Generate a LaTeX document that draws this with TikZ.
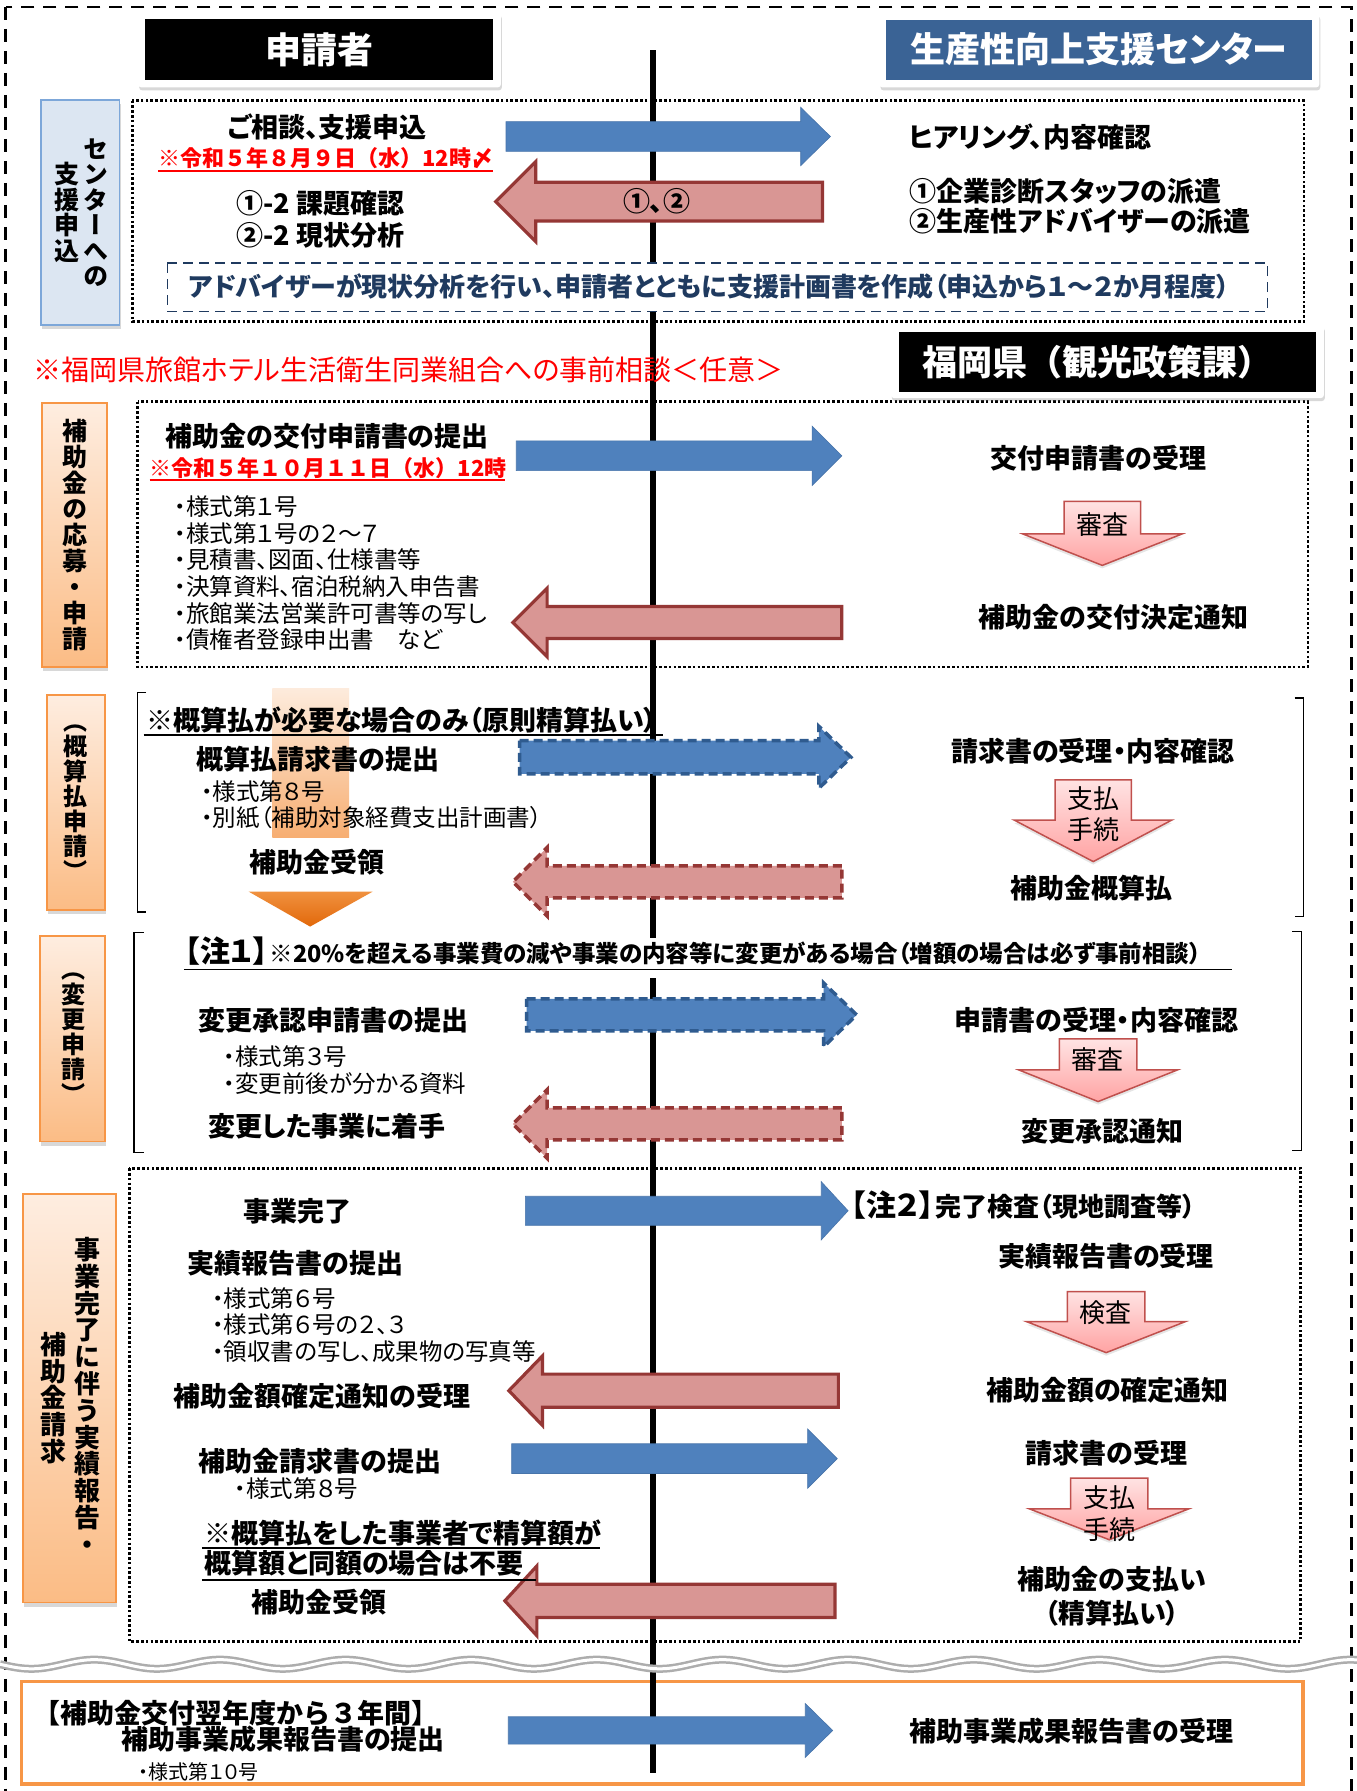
\documentclass[tikz,border=0pt]{standalone}
\usepackage{fontspec}
\setmainfont{Noto Sans CJK JP}[RawFeature=+palt]
\newfontfamily\nfont{Noto Sans CJK JP}
\newfontfamily\vfont{Noto Sans CJK JP}[RawFeature=+vert]
\usetikzlibrary{shadows}
\definecolor{abl}{HTML}{4F81BD}
\definecolor{ablD}{HTML}{2F5B8F}
\definecolor{ard}{HTML}{D99694}
\definecolor{ardD}{HTML}{953735}
\definecolor{hblue}{HTML}{3A6395}
\definecolor{lbf}{HTML}{DCE6F2}
\definecolor{lbd}{HTML}{7DA7D9}
\definecolor{org}{HTML}{F79646}
\definecolor{orgT}{HTML}{FEEDE0}
\definecolor{orgB}{HTML}{FBBC85}
\definecolor{dnD}{HTML}{C0504D}
\definecolor{dnT}{HTML}{FFE3E3}
\definecolor{dnB}{HTML}{FFA3A3}
\definecolor{navy}{HTML}{1F3A5F}
\definecolor{hlT}{HTML}{FDEBDC}
\definecolor{hlB}{HTML}{F7AE72}
\definecolor{triT}{HTML}{F0913F}
\definecolor{triB}{HTML}{E2680A}
\newcommand\hArrow[7]{\path[#1] (#2,{#5-#6}) -- (#3,{#5-#6}) -- (#3,{#5-#7}) -- (#4,#5) -- (#3,{#5+#7}) -- (#3,{#5+#6}) -- (#2,{#5+#6}) -- cycle;}
\newcommand\dArrow[7]{\path[dnarr] (#1,#3) -- (#2,#3) -- (#2,#4) -- (#6,#4) -- ({(#1+#2)/2},#7) -- (#5,#4) -- (#1,#4) -- cycle;}
\tikzset{
  bt/.style={font=\bfseries\fontsize{27}{30}\selectfont, inner sep=0pt},
  rt/.style={font=\fontsize{23.5}{26}\selectfont, inner sep=0pt},
  dt/.style={font=\nfont\bfseries\fontsize{22}{24}\selectfont, text=red, inner sep=0pt},
  vt/.style={font=\vfont\bfseries\fontsize{24}{25.3}\selectfont, align=center, inner sep=0pt},
  dnt/.style={font=\fontsize{26}{27}\selectfont, inner sep=0pt},
  hdt/.style={font=\bfseries\fontsize{36}{36}\selectfont, text=white, inner sep=0pt},
  halo/.style={fill=white, rounded corners=3pt, drop shadow={shadow xshift=1pt, shadow yshift=-3pt, opacity=0.3}},
  dotbox/.style={draw=black, line width=2.6pt, dash pattern=on 2.6pt off 2.2pt},
  outerbox/.style={draw=black, line width=2.6pt, dash pattern=on 13pt off 9pt},
  barr/.style={fill=abl, draw=abl!90!black, line width=0.6pt},
  rarr/.style={fill=ard, draw=ardD, line width=3.2pt, line join=miter},
  bdarr/.style={fill=abl, draw=ablD, line width=3.5pt, dash pattern=on 9pt off 5pt},
  rdarr/.style={fill=ard, draw=ardD, line width=3.5pt, dash pattern=on 9pt off 5pt},
  dnarr/.style={draw=dnD, line width=1.5pt, top color=dnT, bottom color=dnB, drop shadow={shadow xshift=0pt, shadow yshift=-3pt, opacity=0.2}},
  lblo/.style={draw=org, line width=1.8pt, top color=orgT, bottom color=orgB, drop shadow={shadow xshift=1pt, shadow yshift=-4pt, opacity=0.3}},
  lblb/.style={draw=lbd, line width=1.8pt, fill=lbf, drop shadow={shadow xshift=1pt, shadow yshift=-4pt, opacity=0.3}},
  uline/.style={line width=1.6pt},
}
\begin{document}
\begin{tikzpicture}[x=1.1423pt, y=-1.1423pt]
\useasboundingbox (0,0) rectangle (1188,1568);
\clip (0,0) rectangle (1188,1568);
\fill[white] (0,0) rectangle (1188,1568);
% outer dashed frame
\draw[outerbox] (5,6) rectangle (1183,1585);
% dotted group boxes
\draw[dotbox] (116,88) rectangle (1141.6,281.6);
\draw[dotbox] (120.4,351.6) rectangle (1145,584);
\draw[dotbox] (113.3,1022.8) rectangle (1138.6,1437);
\draw[draw=org, line width=3.5pt] (19,1472.2) rectangle (1140.7,1561.8);
% brackets
\draw[line width=1.4pt] (128,606.4) -- (120.4,606.4) -- (120.4,798.4) -- (128,798.4);
\draw[line width=1.4pt] (1133.4,611) -- (1141.3,611) -- (1141.3,802.5) -- (1133.4,802.5);
\draw[line width=1.4pt] (126,816.5) -- (117.2,816.5) -- (117.2,1009) -- (126,1009);
\draw[line width=1.4pt] (1131.5,815.6) -- (1139.4,815.6) -- (1139.4,1007.4) -- (1131.5,1007.4);
% highlight
\shade[top color=hlT, bottom color=hlB] (238.4,603) rectangle (305.6,733);
% orange triangle
\shade[top color=triT, bottom color=triB] (217.7,780.6) -- (326.3,780.6) -- (271.5,811.2) -- cycle;
% time line
\coordinate (vtop) at (572,43.8);
\coordinate (vbot) at (572,1552);
\draw[line width=6pt] (vtop) -- (vbot);
% dashed note box (covers the time line)
\draw[draw=navy, fill=white, line width=1.6pt, dash pattern=on 10pt off 6pt] (146.6,230.5) rectangle (1109.8,272.8);
% wave break
\draw[line width=8pt, color=black!32] plot[domain=0:1188, samples=300, smooth] (\x,{1457+4*sin(3.2727*\x)});
\draw[line width=3pt, white] plot[domain=0:1188, samples=300, smooth] (\x,{1457+4*sin(3.2727*\x)});
% arrows
\hArrow{barr}{443}{701}{727}{119.5}{13}{25.5}
\hArrow{rarr}{720}{469}{434}{176.5}{17}{35}
\hArrow{barr}{452}{711}{737}{399}{13}{26}
\hArrow{rarr}{737}{479}{449}{545}{14}{30}
\hArrow{bdarr}{455}{717}{745}{663}{14.5}{27}
\hArrow{rdarr}{737}{479}{449}{772}{14}{30}
\hArrow{bdarr}{461}{721}{750}{888.5}{14}{28}
\hArrow{rdarr}{737}{479}{449}{984}{14}{30}
\hArrow{barr}{460}{719}{742.5}{1060}{12.7}{25.5}
\hArrow{rarr}{734}{475}{445.5}{1217.5}{14.5}{30.5}
\hArrow{barr}{448}{707}{733}{1277}{13}{26}
\hArrow{rarr}{731}{470}{442}{1401.5}{14.5}{30.5}
\hArrow{barr}{445}{705}{729}{1515}{12}{23.6}
% down arrows
\dArrow{931.6}{998.5}{439}{467.5}{895.6}{1034.8}{495}
\dArrow{923.7}{990.5}{682.8}{717.9}{887.8}{1026}{754.3}
\dArrow{927.4}{995.4}{909.6}{936.7}{891.9}{1030.8}{964.4}
\dArrow{934.5}{1002.4}{1130.8}{1157}{898.6}{1037.9}{1184.2}
\dArrow{937.2}{1005}{1294}{1321}{901.3}{1040.7}{1348}
\node[dnt] (d1) at (965,459.6) {審査};
\node[dnt] (d2a) at (957,699) {支払};
\node[dnt] (d2b) at (957,726.6) {手続};
\node[dnt] (d3) at (961,928) {審査};
\node[dnt] (d4) at (968,1149.5) {検査};
\node[dnt] (d5a) at (971,1311.5) {支払};
\node[dnt] (d5b) at (971,1339.4) {手続};
% side labels
\path[lblb] (36,87.5) rectangle (104.7,284.5);
\node[vt, font=\vfont\bfseries\fontsize{25}{25.5}\selectfont] (l1a) at (84,186) {セ\\ン\\タ\\ー\\へ\\の};
\node[vt, font=\vfont\bfseries\fontsize{25}{25.5}\selectfont] (l1b) at (58.6,186) {支\\援\\申\\込};
\path[lblo] (37,353) rectangle (93.8,584);
\node[vt, font=\vfont\bfseries\fontsize{25}{26}\selectfont] (l2) at (65.7,468) {補\\助\\金\\の\\応\\募\\・\\申\\請};
\path[lblo] (41,608.4) rectangle (91.8,796.6);
\node[vt, font=\vfont\bfseries\fontsize{24}{25}\selectfont] (l3) at (66.4,702.5) {（\\概\\算\\払\\申\\請\\）};
\path[lblo] (35.2,819.4) rectangle (91.8,999.4);
\node[vt, font=\vfont\bfseries\fontsize{24}{25}\selectfont] (l4) at (64.5,909) {（\\変\\更\\申\\請\\）};
\path[lblo] (20.3,1045.3) rectangle (101.6,1403);
\node[vt, font=\vfont\bfseries\fontsize{26}{26.8}\selectfont] (l5a) at (76.2,1222) {事\\業\\完\\了\\に\\伴\\う\\実\\績\\報\\告\\・};
\node[vt, font=\vfont\bfseries\fontsize{26}{26.8}\selectfont] (l5b) at (46.9,1224) {補\\助\\金\\請\\求};
% headers
\path[halo] (121,11) rectangle (438.5,76.5);
\fill[black] (127,17) rectangle (431.8,70);
\node[hdt] (h1) at (279.5,43.5) {申請者};
\path[halo] (770,11.7) rectangle (1155,76.5);
\fill[hblue] (776,17.5) rectangle (1148.4,70);
\node[hdt, font=\bfseries\fontsize{35}{35}\selectfont] (h2) at (962,43.5) {生産性向上支援センター};
\path[halo] (780,284.5) rectangle (1159,348.5);
\fill[black] (787,290.4) rectangle (1152.4,342.9);
\node[hdt, font=\nfont\bfseries\fontsize{35}{35}\selectfont] (h3) at (961,317) {福岡県（観光政策課）};
% section 1
\node[bt] (s1a) at (286.5,111) {ご相談、支援申込};
\node[dt] (s1b) at (285.3,138.6) {※令和５年８月９日（水）12時〆};
\draw[red, line width=2.4pt] (138.7,149.7) -- (431.8,149.7);
\node[bt, anchor=west] (s1c) at (207,178) {①-2 課題確認};
\node[bt, anchor=west] (s1d) at (207,205.7) {②-2 現状分析};
\node[bt] (s1e) at (575,176.5) {①、②};
\node[bt, anchor=west] (s1f) at (796,119.7) {ヒアリング、内容確認};
\node[bt, anchor=west] (s1g) at (796,167.8) {①企業診断スタッフの派遣};
\node[bt, anchor=west] (s1h) at (796,194) {②生産性アドバイザーの派遣};
\node[bt, text=navy, font=\bfseries\fontsize{26}{27}\selectfont] (s1i) at (621,251) {アドバイザーが現状分析を行い、申請者とともに支援計画書を作成（申込から１～２か月程度）};
\node[anchor=west, inner sep=0pt, text=red, font=\fontsize{28}{30}\selectfont] (rnote) at (29,324) {※福岡県旅館ホテル生活衛生同業組合への事前相談＜任意＞};
% section 2
\node[bt] (s2a) at (286.3,382.3) {補助金の交付申請書の提出};
\node[dt] (s2b) at (287.3,410) {※令和５年１０月１１日（水）12時};
\draw[red, line width=2.4pt] (131,420.2) -- (442,420.2);
\node[rt, anchor=west] (s2c) at (152.4,443.5) {・様式第１号};
\node[rt, anchor=west] (s2d) at (152.4,467) {・様式第１号の２～７};
\node[rt, anchor=west] (s2e) at (152.4,490.2) {・見積書、図面、仕様書等};
\node[rt, anchor=west] (s2f) at (152.4,513.6) {・決算資料、宿泊税納入申告書};
\node[rt, anchor=west] (s2g) at (152.4,536.9) {・旅館業法営業許可書等の写し};
\node[rt, anchor=west] (s2h) at (152.4,560.3) {・債権者登録申出書　など};
\node[bt] (s2i) at (961.7,401.2) {交付申請書の受理};
\node[bt] (s2j) at (975,540.4) {補助金の交付決定通知};
% section 3
\node[bt, anchor=west] (s3a) at (128,630.3) {※概算払が必要な場合のみ（原則精算払い）};
\draw[uline] (125.8,643.4) -- (580.4,643.4);
\node[bt, anchor=west] (s3b) at (172,664.7) {概算払請求書の提出};
\node[rt, anchor=west] (s3c) at (176,693) {・様式第８号};
\node[rt, anchor=west] (s3d) at (176,715.4) {・別紙（補助対象経費支出計画書）};
\node[bt] (s3e) at (277.5,755.2) {補助金受領};
\node[bt] (s3f) at (956.8,658) {請求書の受理・内容確認};
\node[bt] (s3g) at (955.8,777.7) {補助金概算払};
% section 4
\fill[white] (560,821) rectangle (584,856);
\node[anchor=west, inner sep=0pt, font=\bfseries] (s4a) at (162,833) {{\fontsize{30}{30}\selectfont 【注１】}\,{\fontsize{23.5}{26}\selectfont ※20\%を超える事業費の減や事業の内容等に変更がある場合（増額の場合は必ず事前相談）}};
\draw[uline] (161,848.6) -- (1079,848.6);
\node[bt, anchor=west] (s4b) at (174,893.5) {変更承認申請書の提出};
\node[rt, anchor=west] (s4c) at (195.4,925) {・様式第３号};
\node[rt, anchor=west] (s4d) at (195.4,948.4) {・変更前後が分かる資料};
\node[bt] (s4e) at (286.3,986.3) {変更した事業に着手};
\node[bt] (s4f) at (960,893) {申請書の受理・内容確認};
\node[bt] (s4g) at (965,990.7) {変更承認通知};
% section 5
\node[bt] (s5a) at (260.8,1060.7) {事業完了};
\node[bt, anchor=west] (s5b) at (164,1106) {実績報告書の提出};
\node[rt, anchor=west] (s5c) at (185.6,1136.6) {・様式第６号};
\node[rt, anchor=west] (s5d) at (185.6,1160) {・様式第６号の２、３};
\node[rt, anchor=west] (s5e) at (185.6,1183.3) {・領収書の写し、成果物の写真等};
\node[bt] (s5f) at (281.7,1222.7) {補助金額確定通知の受理};
\node[bt, anchor=west] (s5g) at (174,1279.6) {補助金請求書の提出};
\node[rt, anchor=west] (s5h) at (205.2,1303) {・様式第８号};
\node[bt, anchor=west] (s5i) at (179,1342.3) {※概算払をした事業者で精算額が};
\draw[uline] (176.7,1355.5) -- (525.6,1355.5);
\node[bt, anchor=west] (s5j) at (179,1368.6) {概算額と同額の場合は不要};
\draw[uline] (176.7,1383) -- (469,1383);
\node[bt] (s5k) at (279.6,1403) {補助金受領};
\node[anchor=west, inner sep=0pt, font=\bfseries] (s5l) at (745,1054.9) {{\fontsize{30}{30}\selectfont 【注２】}\,{\fontsize{26}{28}\selectfont 完了検査（現地調査等）}};
\node[bt] (s5m) at (968.3,1100) {実績報告書の受理};
\node[bt] (s5n) at (969.6,1216.9) {補助金額の確定通知};
\node[bt] (s5o) at (968.6,1272.3) {請求書の受理};
\node[bt] (s5p) at (973.6,1383) {補助金の支払い};
\node[bt] (s5q) at (973.8,1412) {（精算払い）};
% bottom
\node[bt, anchor=west, font=\nfont\bfseries\fontsize{27}{30}\selectfont] (b1) at (28.8,1499.9) {【補助金交付翌年度から３年間】};
\node[bt, anchor=west] (b2) at (106,1522.6) {補助事業成果報告書の提出};
\node[rt, anchor=west, font=\fontsize{20}{22}\selectfont] (b3) at (121,1551) {・様式第１０号};
\node[bt] (b4) at (938,1516) {補助事業成果報告書の受理};
\end{tikzpicture}
\end{document}
